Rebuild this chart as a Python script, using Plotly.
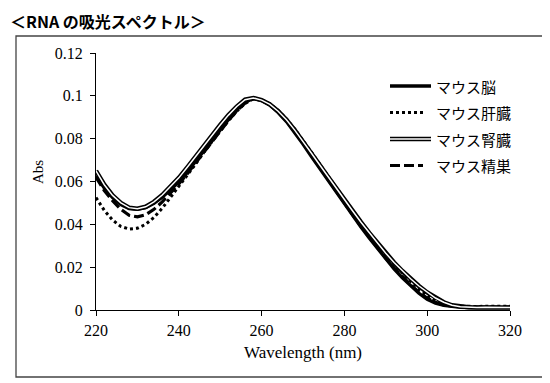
import plotly.graph_objects as go

wavelength = list(range(220, 321, 2))

brain = [0.0625, 0.0570, 0.0525, 0.0492, 0.0474, 0.0470, 0.0478, 0.0498, 0.0527, 0.0560,
         0.0597, 0.0643, 0.0693, 0.0744, 0.0795, 0.0843, 0.0890, 0.0935, 0.0970, 0.0988,
         0.0978, 0.0957, 0.0922, 0.0880, 0.0830, 0.0775, 0.0718, 0.0662, 0.0605, 0.0550,
         0.0495, 0.0440, 0.0387, 0.0336, 0.0286, 0.0238, 0.0192, 0.0150, 0.0112, 0.0078,
         0.0050, 0.0032, 0.0022, 0.0016, 0.0013, 0.0012, 0.0013, 0.0011, 0.0012, 0.0011,
         0.0012]

liver = [0.0525, 0.0465, 0.0420, 0.0390, 0.0378, 0.0382, 0.0400, 0.0432, 0.0475, 0.0525,
         0.0575, 0.0628, 0.0680, 0.0735, 0.0787, 0.0836, 0.0884, 0.0928, 0.0964, 0.0986,
         0.0982, 0.0963, 0.0932, 0.0892, 0.0845, 0.0793, 0.0738, 0.0682, 0.0626, 0.0570,
         0.0515, 0.0460, 0.0407, 0.0356, 0.0306, 0.0258, 0.0213, 0.0172, 0.0134, 0.0099,
         0.0068, 0.0044, 0.0028, 0.0020, 0.0017, 0.0018, 0.0016, 0.0018, 0.0017, 0.0018,
         0.0017]

kidney = [0.0650, 0.0585, 0.0535, 0.0500, 0.0478, 0.0473, 0.0482, 0.0505, 0.0537, 0.0575,
          0.0617, 0.0665, 0.0716, 0.0767, 0.0817, 0.0864, 0.0910, 0.0950, 0.0982, 0.0990,
          0.0980, 0.0960, 0.0928, 0.0888, 0.0840, 0.0788, 0.0733, 0.0678, 0.0623, 0.0568,
          0.0515, 0.0462, 0.0410, 0.0360, 0.0312, 0.0265, 0.0222, 0.0182, 0.0146, 0.0112,
          0.0082, 0.0056, 0.0036, 0.0022, 0.0015, 0.0013, 0.0012, 0.0013, 0.0012, 0.0012,
          0.0012]

testis = [0.0620, 0.0558, 0.0510, 0.0470, 0.0442, 0.0435, 0.0445, 0.0470, 0.0505, 0.0545,
          0.0588, 0.0635, 0.0685, 0.0737, 0.0788, 0.0838, 0.0885, 0.0930, 0.0966, 0.0988,
          0.0980, 0.0960, 0.0926, 0.0885, 0.0836, 0.0781, 0.0724, 0.0667, 0.0610, 0.0554,
          0.0499, 0.0444, 0.0391, 0.0340, 0.0290, 0.0242, 0.0197, 0.0155, 0.0117, 0.0083,
          0.0055, 0.0036, 0.0024, 0.0018, 0.0015, 0.0014, 0.0013, 0.0014, 0.0013, 0.0013,
          0.0013]

series_names = ["マウス脳", "マウス肝臓", "マウス腎臓", "マウス精巣"]
title_text = "＜RNA の吸光スペクトル＞"
x_title = "Wavelength (nm)"
y_title = "Abs"
x_ticks = [220, 240, 260, 280, 300, 320]
y_ticks = [0, 0.02, 0.04, 0.06, 0.08, 0.1, 0.12]

# The page body has an 8px default margin, so the figure is drawn
# 8px right/down of the window origin; window coordinates are used below.
OFF = 8
W, H = 550 - OFF, 383 - OFF
ML, MR, MT, MB = 96 - OFF, 40, 53 - OFF, 73
PW, PH = W - ML - MR, H - MT - MB


def px(x):
    return (x - OFF - ML) / PW


def py(y):
    return (H - MB - (y - OFF)) / PH


fig = go.Figure()
fig.add_trace(go.Scatter(x=wavelength, y=brain, mode="lines", name=series_names[0],
                         line=dict(color="black", width=3.4)))
fig.add_trace(go.Scatter(x=wavelength, y=liver, mode="lines", name=series_names[1],
                         line=dict(color="black", width=3, dash="3px,3px")))
fig.add_trace(go.Scatter(x=wavelength, y=testis, mode="lines", name=series_names[3],
                         line=dict(color="black", width=3.2, dash="10px,4px")))
fig.add_trace(go.Scatter(x=wavelength, y=kidney, mode="lines", name=series_names[2],
                         line=dict(color="black", width=4.5)))
fig.add_trace(go.Scatter(x=wavelength, y=kidney, mode="lines", name=series_names[2],
                         line=dict(color="white", width=1.5), hoverinfo="skip"))

shapes = []
annotations = []

# outer frame
shapes.append(dict(type="rect", xref="paper", yref="paper",
                   x0=px(16), x1=px(543), y0=py(377), y1=py(36),
                   line=dict(color="#444444", width=1.3), layer="above"))

# legend (drawn manually)
leg_y = [86, 112.5, 139, 165.5]
leg_styles = [
    dict(len=41, lines=[dict(color="black", width=3.4, dash="solid")]),
    dict(len=33, lines=[dict(color="black", width=3, dash="3px,3px")]),
    dict(len=41, lines=[dict(color="black", width=4.5, dash="solid"),
                        dict(color="white", width=1.5, dash="solid")]),
    dict(len=33, lines=[dict(color="black", width=3.2, dash="10px,4px")]),
]
for name, yy, st in zip(series_names, leg_y, leg_styles):
    for ln in st["lines"]:
        shapes.append(dict(type="line", xref="paper", yref="paper",
                           x0=px(390), x1=px(390 + st["len"]), y0=py(yy), y1=py(yy),
                           line=ln))
    annotations.append(dict(text=name, xref="paper", yref="paper",
                            x=px(434), y=py(yy), xanchor="left", yanchor="middle",
                            showarrow=False,
                            font=dict(family="Noto Sans CJK JP", size=15, color="black")))

annotations.append(dict(text="<b>" + title_text + "</b>", xref="paper", yref="paper",
                        x=px(8), y=py(21), xanchor="left", yanchor="middle",
                        showarrow=False,
                        font=dict(family="Noto Sans CJK JP", size=16, color="black")))

serif = "Liberation Serif"
annotations.append(dict(text=y_title, xref="paper", yref="paper",
                        x=px(38), y=py(172), xanchor="center", yanchor="middle",
                        textangle=-90, showarrow=False,
                        font=dict(family=serif, size=15, color="black")))

fig.update_layout(
    width=W, height=H,
    margin=dict(l=ML, r=MR, t=MT, b=MB, pad=0),
    paper_bgcolor="white", plot_bgcolor="white",
    showlegend=False,
    shapes=shapes, annotations=annotations,
    xaxis=dict(range=[220, 320], tickvals=x_ticks, ticktext=[str(v) for v in x_ticks],
               showgrid=False, zeroline=False, showline=True, linecolor="black",
               linewidth=1, ticks="outside", ticklen=5, tickcolor="black",
               ticklabelstandoff=1,
               tickfont=dict(family=serif, size=16, color="black"),
               title=dict(text=x_title, font=dict(family=serif, size=17, color="black"),
                          standoff=7)),
    yaxis=dict(range=[0, 0.12], tickvals=y_ticks, ticktext=[f"{v:g}" for v in y_ticks],
               showgrid=False, zeroline=False, showline=True, linecolor="black",
               linewidth=1, ticks="outside", ticklen=5, tickcolor="black",
               ticklabelstandoff=4,
               tickfont=dict(family=serif, size=16, color="black")),
)

fig.write_html("out.html")
